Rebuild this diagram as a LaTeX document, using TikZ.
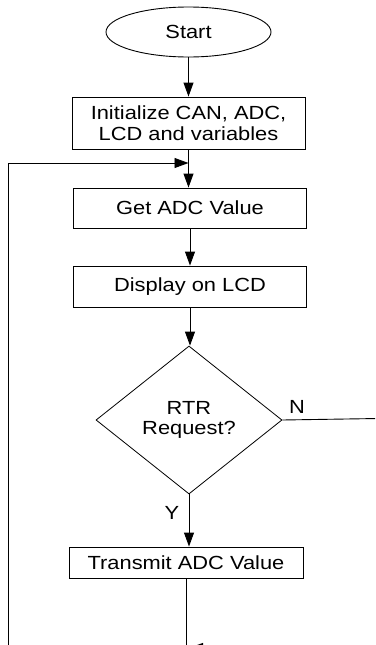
\documentclass[tikz,border=0pt]{standalone}
\usepackage{fontspec}
\setmainfont{Liberation Sans}[FakeStretch=1.15]
\usetikzlibrary{shapes.geometric,arrows.meta}
\begin{document}
\begin{tikzpicture}[x=1pt,y=-1pt,
  every node/.style={font=\fontsize{19}{20.5}\selectfont, align=center, inner sep=0pt},
  proc/.style={draw, rectangle, line width=0.9pt, minimum width=233pt},
  term/.style={draw, ellipse, line width=0.9pt, minimum width=165pt, minimum height=50pt},
  decide/.style={draw, diamond, line width=0.8pt, minimum width=186pt, minimum height=148pt},
  flow/.style={line width=0.9pt, -{Triangle[length=14pt,width=10pt]}},
  wire/.style={line width=0.9pt}]
\useasboundingbox (0,0) rectangle (375,645);
\clip (0,0) rectangle (375,645);

% process steps
\node[term] (start) at (188.5,32) {Start};
\node[proc, minimum height=52pt] (init) at (188.5,123) {Initialize CAN, ADC,\\LCD and variables};
\node[proc, minimum height=40pt] (get) at (190,208) {Get ADC Value};
\node[proc, minimum height=41pt] (disp) at (190,286.5) {Display on LCD};
\node[decide] (rtr) at (189,420) {RTR\\Request?};
\node[proc, minimum width=234pt, minimum height=31pt] (tx) at (186,562.5) {Transmit ADC Value};

% branch labels
\node (nlab) at (297,407) {N};
\node (ylab) at (172,513) {Y};

% main flow
\draw[flow] (start) -- (init);
\coordinate (merge) at (188.5,163);
\draw[wire] (init.south) -- (merge);
\draw[flow] (merge) -- (merge |- get.north);
\draw[flow] (get) -- (disp);
\draw[flow] (disp.south) -- (disp.south |- rtr.north);
\draw[flow] (rtr.south) -- (rtr.south |- tx.north);

% "N" branch rejoins below the transmit step
\coordinate (nright) at (410,418);
\coordinate (ndown) at (410,648);
\coordinate (ret) at (189,648);
\draw[wire] (rtr.east) -- (nright) -- (ndown);
\draw[flow] (ndown) -- (ret);

% loop back to the top of the cycle
\coordinate (lowmid) at (186,690);
\coordinate (lowleft) at (8,690);
\coordinate (upleft) at (8,163);
\draw[wire] (tx.south) -- (lowmid) -- (lowleft) -- (upleft);
\draw[flow] (upleft) -- (merge);
\end{tikzpicture}
\end{document}
